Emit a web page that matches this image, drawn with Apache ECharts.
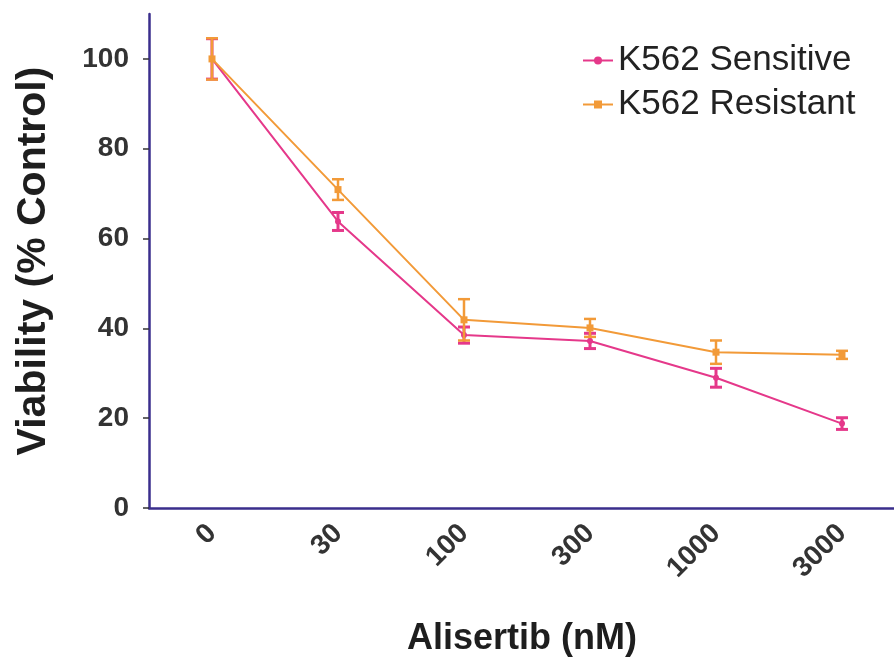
<!DOCTYPE html>
<html style="height: 100%">
<head>
    <meta charset="utf-8">
    <script type="text/javascript" src="https://cdn.jsdelivr.net/npm/echarts@6.0.0/dist/echarts.min.js"></script>
</head>
<body style="height: 100%; margin: 0; background-color: #ffffff;">
    <div id="main" style="width: 894px;height: 664px;"></div>
<script>
// doses (nM)
var doses = ['0', '30', '100', '300', '1000', '3000'];
// viability, % control
var sensitive = [100, 63.8, 38.5, 37.2, 29.0, 18.8];
var sensitiveErr = [4.5, 2.0, 1.8, 1.7, 2.1, 1.3];
var resistant = [100, 70.9, 41.9, 40.1, 34.7, 34.1];
var resistantErr = [4.6, 2.3, 4.6, 2.0, 2.6, 0.9];
var yTicks = [0, 20, 40, 60, 80, 100];

var pink = '#e5388a';
var orange = '#f29a38';
var axisColor = '#3a2e8c';

function errData(vals, errs) {
    return vals.map(function (v, i) {
        return [i, v - errs[i], v + errs[i]];
    });
}

// I-beam error bar
function errorBar(width) {
    return function (params, api) {
        var x = api.value(0);
        var lo = api.coord([x, api.value(1)]);
        var hi = api.coord([x, api.value(2)]);
        var half = 6;
        var st = { stroke: api.visual('color'), lineWidth: width };
        return {
            type: 'group',
            children: [
                { type: 'line', shape: { x1: hi[0], y1: hi[1], x2: lo[0], y2: lo[1] }, style: st },
                { type: 'line', shape: { x1: hi[0] - half, y1: hi[1], x2: hi[0] + half, y2: hi[1] }, style: st },
                { type: 'line', shape: { x1: lo[0] - half, y1: lo[1], x2: lo[0] + half, y2: lo[1] }, style: st }
            ]
        };
    };
}

var chartDom = document.getElementById('main');
var myChart = echarts.init(chartDom);
var option;

option = {
    animation: false,
    textStyle: { fontFamily: 'Liberation Sans' },
    grid: {
        left: 149,
        top: 14,
        width: 756,
        height: 494,
        outerBoundsMode: 'none',
        containLabel: false
    },
    legend: {
        orient: 'vertical',
        left: 577,
        top: 38,
        itemWidth: 30,
        itemHeight: 10,
        itemGap: 9,
        textStyle: { fontSize: 35, color: '#222', fontFamily: 'Liberation Sans' },
        data: ['K562 Sensitive', 'K562 Resistant']
    },
    xAxis: {
        type: 'category',
        data: doses,
        boundaryGap: true,
        name: 'Alisertib (nM)',
        nameLocation: 'middle',
        nameGap: 113,
        nameTextStyle: { fontSize: 36, fontWeight: 'bold', color: '#1e1e1e', padding: [0, 10, 0, 0] },
        axisLine: { lineStyle: { color: axisColor, width: 2.5 } },
        axisTick: { alignWithLabel: true, length: 7, lineStyle: { color: '#333', width: 1.5 } },
        axisLabel: { rotate: 45, margin: 21, fontSize: 28, fontWeight: 'bold', color: '#333' }
    },
    yAxis: {
        type: 'value',
        min: 0,
        max: 110,
        interval: 20,
        name: 'Viability (% Control)',
        nameLocation: 'middle',
        nameGap: 95,
        nameTextStyle: { fontSize: 41, fontWeight: 'bold', color: '#1e1e1e' },
        splitLine: { show: false },
        axisLine: { show: true, lineStyle: { color: axisColor, width: 2.5 } },
        axisTick: { show: true, length: 6, customValues: yTicks, lineStyle: { color: '#333', width: 1.5 } },
        axisLabel: { margin: 20, fontSize: 28, fontWeight: 'bold', color: '#333', customValues: yTicks }
    },
    series: [
        {
            name: 'K562 Sensitive',
            type: 'line',
            data: sensitive,
            symbol: 'circle',
            symbolSize: 6,
            itemStyle: { color: pink },
            lineStyle: { color: pink, width: 2 },
            z: 3
        },
        {
            name: 'K562 Resistant',
            type: 'line',
            data: resistant,
            symbol: 'rect',
            symbolSize: 7,
            itemStyle: { color: orange },
            lineStyle: { color: orange, width: 2 },
            z: 4
        },
        {
            type: 'custom',
            renderItem: errorBar(3),
            data: errData(sensitive, sensitiveErr),
            itemStyle: { color: pink },
            encode: { x: 0, y: [1, 2] },
            z: 3
        },
        {
            type: 'custom',
            renderItem: errorBar(2.5),
            data: errData(resistant, resistantErr),
            itemStyle: { color: orange },
            encode: { x: 0, y: [1, 2] },
            z: 4
        }
    ]
};

option && myChart.setOption(option);
</script>
</body>
</html>
